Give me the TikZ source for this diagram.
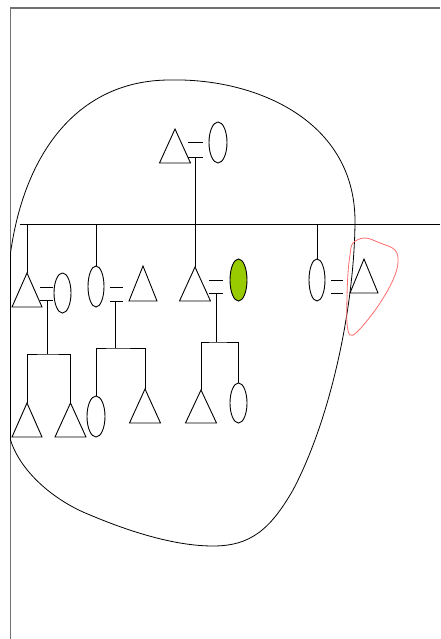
\documentclass[tikz,border=0pt]{standalone}
\usetikzlibrary{shapes.geometric}
\definecolor{framegray}{HTML}{707070}
\definecolor{leaf}{HTML}{99CC00}
\definecolor{redloop}{HTML}{FF6B6B}
\begin{document}
\begin{tikzpicture}[x=1pt,y=-1pt,
  ln/.style={line width=0.9pt,black},
  ell/.style={draw,ln,ellipse,inner sep=0pt,minimum width=#1},
  pics/tri/.style n args={2}{code={\draw[line width=0.9pt] (0,0) -- (#1/2,#2) -- (-#1/2,#2) -- cycle;}}]
\useasboundingbox (0,0) rectangle (440,639);
% frame
\draw[framegray,line width=1.4pt] (10.5,639) -- (10.5,8) -- (440,8);
% big hand-drawn curve
\draw[ln,line width=0.8pt] (10.5,253) .. controls (25,150) and (80,80) .. (170,80)
  .. controls (255,78) and (356,120) .. (355,223)
  .. controls (354,310) and (330,420) .. (293,490)
  .. controls (270,530) and (250,546) .. (213,546)
  .. controls (170,546) and (120,528) .. (83,512)
  .. controls (50,497) and (20,470) .. (10.5,440) -- cycle;
% red loop
\draw[redloop,line width=0.8pt] plot[smooth cycle,tension=0.6] coordinates {
 (353,243) (365,238) (380,243) (395,250) (398,263) (393,280) (382,300) (370,317)
 (357,332) (350,335) (347,323) (347,297) (348,273) (350,255)};
% generation 1
\coordinate (gf) at (175,129);
\pic at (gf) {tri={31}{34}};
\node[ell=18pt,minimum height=41pt] (gm) at (218,142.5) {};
\draw[ln] (188,142) -- (203,142);
\draw[ln] (188,157) -- (203,157);
\coordinate (gd) at (195,157);
\coordinate (sib) at (195,224);
\draw[ln] (gd) -- (sib);
\draw[ln] (20,224) -- (440,224);
% child 1
\coordinate (c1) at (27,273);
\pic at (c1) {tri={30}{34}};
\draw[ln] (c1 |- sib) -- (c1);
\node[ell=17pt,minimum height=40pt] (s1) at (62.5,293) {};
\draw[ln] (40,287) -- (53,287);
\draw[ln] (40,300) -- (53,300);
\coordinate (d1) at (47,300);
\coordinate (g1a) at (27,403);
\coordinate (g1b) at (70.5,403);
\draw[ln] (d1) -- (47,354);
\draw[ln] (g1a) |- (47,354) -| (g1b);
\pic at (g1a) {tri={30}{34}};
\pic at (g1b) {tri={31}{34}};
% child 2
\node[ell=16pt,minimum height=41pt] (c2) at (96,286.5) {};
\draw[ln] (c2.north |- sib) -- (c2.north);
\coordinate (s2) at (143,266);
\pic at (s2) {tri={28}{35}};
\draw[ln] (110,287) -- (123,287);
\draw[ln] (110,301) -- (123,301);
\coordinate (d2) at (115.7,301);
\node[ell=18pt,minimum height=41pt] (g2a) at (96,416.5) {};
\coordinate (g2b) at (145,389);
\pic at (g2b) {tri={31}{34}};
\draw[ln] (d2) -- (115.7,348);
\draw[ln] (g2a.north) |- (115.7,348) -| (g2b);
% child 3 (index)
\coordinate (c3) at (195,267);
\pic at (c3) {tri={31}{34}};
\draw[ln] (sib) -- (c3);
\node[ell=17pt,minimum height=42pt,fill=leaf] (s3) at (238.5,280) {};
\draw[ln] (209,280) -- (223,280);
\draw[ln] (209,293) -- (223,293);
\coordinate (d3) at (216,293);
\coordinate (g3a) at (201,390);
\pic at (g3a) {tri={31}{33}};
\node[ell=17pt,minimum height=40pt] (g3b) at (238.5,403) {};
\draw[ln] (d3) -- (216,342);
\draw[ln] (g3a) |- (216,342) -| (g3b.north);
% child 4
\node[ell=16pt,minimum height=42pt] (c4) at (317,280) {};
\draw[ln] (c4.north |- sib) -- (c4.north);
\coordinate (s4) at (364,259);
\pic at (s4) {tri={28}{34}};
\draw[ln] (331,280) -- (343,280);
\draw[ln] (331,293) -- (343,293);
\end{tikzpicture}
\end{document}
